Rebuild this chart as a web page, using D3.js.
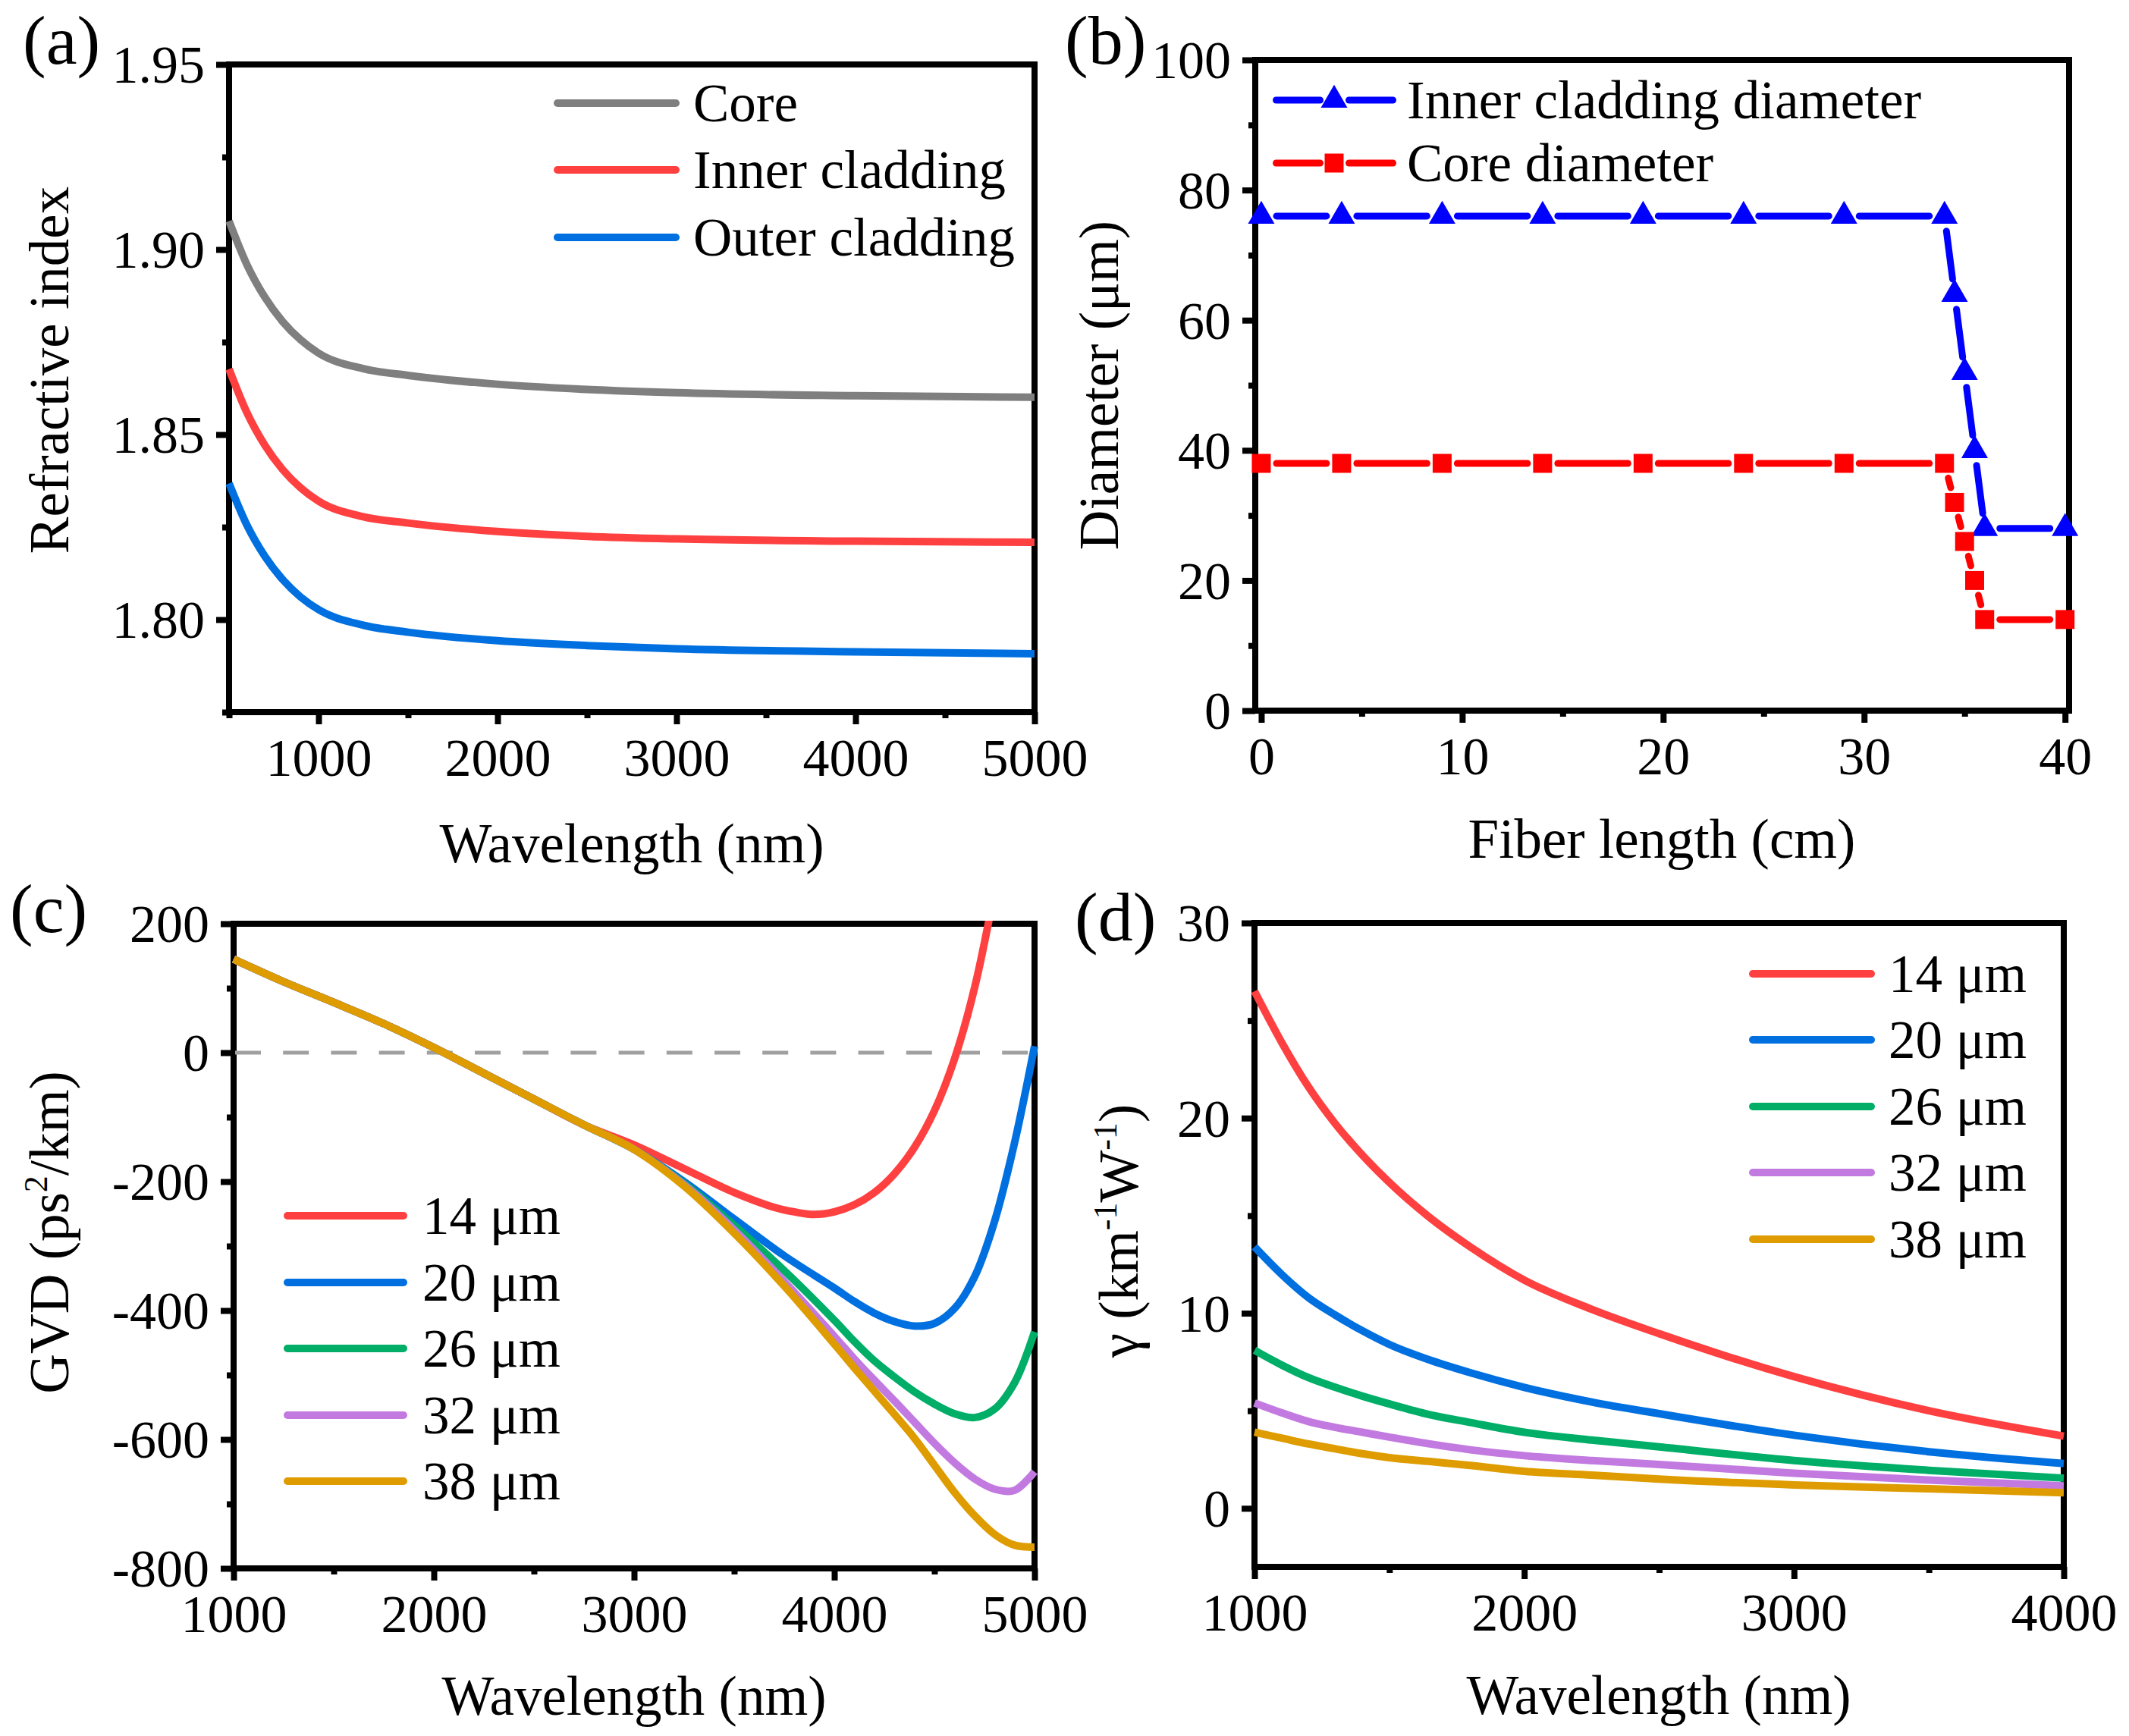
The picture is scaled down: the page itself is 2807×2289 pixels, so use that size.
<!DOCTYPE html>
<html><head><meta charset="utf-8">
<script src="https://cdn.jsdelivr.net/npm/d3@7"></script>
<style>html,body{margin:0;padding:0;background:#fff;}</style>
</head><body>
<svg id="fig" width="2807" height="2289" xmlns="http://www.w3.org/2000/svg"></svg>
<script>
// ---------------- DATA ----------------
// (a) refractive index vs wavelength
const aWl    = [500, 600, 700, 800, 900, 1000, 1250, 1500, 2000, 2500, 3000, 4000, 5000];
const aCore  = [1.9077, 1.8959, 1.8871, 1.8805, 1.8756, 1.8720, 1.8678, 1.8660, 1.8636, 1.8622, 1.8613, 1.8605, 1.8601];
const aInner = [1.8677, 1.8559, 1.8471, 1.8405, 1.8356, 1.8320, 1.8278, 1.8261, 1.8238, 1.8225, 1.8218, 1.8212, 1.8209];
const aOuter = [1.8368, 1.8255, 1.8171, 1.8108, 1.8061, 1.8027, 1.7985, 1.7966, 1.7943, 1.7930, 1.7921, 1.7913, 1.7908];
const aNames = ["Core", "Inner cladding", "Outer cladding"];

// (b) diameters vs fiber length
const bLength = [0, 4, 9, 14, 19, 24, 29, 34, 34.5, 35, 35.5, 36, 40];
const bInner  = [76, 76, 76, 76, 76, 76, 76, 76, 64, 52, 40, 28, 28];
const bCore   = [38, 38, 38, 38, 38, 38, 38, 38, 32, 26, 20, 14, 14];
const bNames  = ["Inner cladding diameter", "Core diameter"];

// (c) GVD vs wavelength (shared short-wavelength part, then each core size)
const cWlBase  = [1000, 1250, 1500, 1750, 2000, 2250, 2500, 2750];
const cGvdBase = [145, 110, 78, 45, 8, -32, -72, -112];
const cWl14 = [3000, 3250, 3500, 3700, 3800, 3900, 4000, 4100, 4200, 4300, 4400, 4500, 4600, 4700, 4800];
const cG14  = [-143, -180, -217, -240, -247, -251, -247, -236, -217, -188, -147, -90, -10, 100, 250];
const cWl20 = [3000, 3250, 3500, 3750, 4000, 4100, 4200, 4300, 4400, 4500, 4600, 4700, 4800, 4900, 5000];
const cG20  = [-150, -200, -258, -315, -365, -386, -404, -417, -424, -420, -397, -348, -262, -140, 10];
const cWl26 = [3000, 3250, 3500, 3750, 4000, 4100, 4200, 4300, 4400, 4500, 4600, 4700, 4800, 4900, 5000];
const cG26  = [-150, -203, -268, -338, -415, -448, -478, -503, -526, -545, -560, -566, -553, -512, -433];
const cWl32 = [3000, 3250, 3500, 3750, 4000, 4100, 4200, 4300, 4400, 4500, 4600, 4700, 4800, 4900, 5000];
const cG32  = [-150, -205, -275, -355, -440, -475, -508, -540, -573, -606, -636, -661, -677, -679, -650];
const cWl38 = [3000, 3250, 3500, 3750, 4000, 4100, 4200, 4300, 4400, 4500, 4600, 4700, 4800, 4900, 5000];
const cG38  = [-150, -207, -280, -362, -452, -489, -525, -561, -598, -640, -682, -718, -747, -764, -767];
const sizeNames = ["14 μm", "20 μm", "26 μm", "32 μm", "38 μm"];

// (d) nonlinear coefficient vs wavelength
const dWl  = [1000, 1100, 1200, 1300, 1400, 1500, 1650, 1800, 2000, 2250, 2500, 3000, 3500, 4000];
const d14  = [26.5, 23.9, 21.6, 19.7, 18.1, 16.7, 14.9, 13.4, 11.7, 10.2, 8.95, 6.75, 5.0, 3.7];
const d20  = [13.4, 12.0, 10.8, 9.9, 9.1, 8.4, 7.6, 6.95, 6.2, 5.45, 4.85, 3.75, 2.9, 2.3];
const d26  = [8.1, 7.35, 6.7, 6.2, 5.75, 5.35, 4.8, 4.4, 3.9, 3.5, 3.15, 2.45, 1.95, 1.55];
const d32  = [5.4, 4.9, 4.45, 4.15, 3.9, 3.65, 3.3, 3.0, 2.7, 2.45, 2.25, 1.8, 1.45, 1.15];
const d38  = [3.9, 3.6, 3.3, 3.05, 2.8, 2.6, 2.4, 2.2, 1.9, 1.7, 1.5, 1.2, 1.0, 0.8];

// tick values
const aXMajor = [1000, 2000, 3000, 4000, 5000], aXMinor = [500, 1500, 2500, 3500, 4500];
const aYMajor = [1.80, 1.85, 1.90, 1.95],      aYMinor = [1.775, 1.825, 1.875, 1.925];
const bXMajor = [0, 10, 20, 30, 40],           bXMinor = [5, 15, 25, 35];
const bYMajor = [0, 20, 40, 60, 80, 100],      bYMinor = [10, 30, 50, 70, 90];
const cXMajor = [1000, 2000, 3000, 4000, 5000], cXMinor = [1500, 2500, 3500, 4500];
const cYMajor = [-800, -600, -400, -200, 0, 200], cYMinor = [-700, -500, -300, -100, 100];
const dXMajor = [1000, 2000, 3000, 4000],      dXMinor = [1500, 2500, 3500];
const dYMajor = [0, 10, 20, 30],               dYMinor = [5, 15, 25];

// ---------------- STYLE ----------------
const FONT = '"Liberation Serif", "Times New Roman", Times, serif';
const TICK_FS = 70, TITLE_FS = 73, LEG_FS = 71, PANEL_FS = 92;
const SPINE_W = 8, LINE_W = 10;
const C_GRAY = "#7f7f7f", C_RED = "#ff4040", C_BLUE = "#0070e0",
      C_GREEN = "#00ae68", C_PURPLE = "#c27ae0", C_ORANGE = "#de9c00";
const sizeColors = [C_RED, C_BLUE, C_GREEN, C_PURPLE, C_ORANGE];

const svg = d3.select("#fig");
svg.append("rect").attr("width", 2807).attr("height", 2289).attr("fill", "#fff");

function txt(g, x, y, s, fs, anchor) {
  return g.append("text").attr("x", x).attr("y", y).attr("font-family", FONT)
    .attr("font-size", fs).attr("fill", "#000").attr("text-anchor", anchor || "start").text(s);
}

function drawAxes(x, y, t) {
  const g = svg.append("g");
  const [x0, x1] = x.range(), [y0, y1] = y.range();
  const style = a => {
    a.select(".domain").remove();
    a.attr("font-family", null).attr("font-size", null);
    a.selectAll("line").attr("stroke", "#000").attr("stroke-width", SPINE_W);
    a.selectAll("text").attr("font-family", FONT).attr("font-size", TICK_FS).attr("fill", "#000");
  };
  g.append("g").attr("transform", `translate(0,${y0})`)
    .call(d3.axisBottom(x).tickValues(t.xMinor).tickSize(8).tickFormat(() => "")).call(style);
  g.append("g").attr("transform", `translate(${x0},0)`)
    .call(d3.axisLeft(y).tickValues(t.yMinor).tickSize(9).tickFormat(() => "")).call(style);
  g.append("g").attr("transform", `translate(0,${y0})`)
    .call(d3.axisBottom(x).tickValues(t.xMajor).tickSize(16).tickFormat(t.xFmt)).call(style)
    .call(a => a.selectAll("text").attr("y", 84).attr("dy", null));
  g.append("g").attr("transform", `translate(${x0},0)`)
    .call(d3.axisLeft(y).tickValues(t.yMajor).tickSize(17).tickFormat(t.yFmt)).call(style)
    .call(a => a.selectAll("text").attr("x", -32).attr("dy", "0.34em"));
  g.append("rect").attr("x", x0).attr("y", y1).attr("width", x1 - x0).attr("height", y0 - y1)
    .attr("fill", "none").attr("stroke", "#000").attr("stroke-width", SPINE_W);
  return g;
}

function legendLine(g, xa, xb, yy, color, label, tx) {
  g.append("line").attr("x1", xa + LINE_W / 2).attr("x2", xb - LINE_W / 2).attr("y1", yy).attr("y2", yy)
    .attr("stroke", color).attr("stroke-width", LINE_W).attr("stroke-linecap", "round");
  txt(g, tx, yy + 24, label, LEG_FS);
}

const intFmt = d => String(d);

// ================= (a) =================
{
  const x = d3.scaleLinear().domain([500, 5000]).range([302, 1364]);
  const y = d3.scaleLinear().domain([1.775, 1.95]).range([939, 85]);
  drawAxes(x, y, {xMajor: aXMajor, xMinor: aXMinor, yMajor: aYMajor, yMinor: aYMinor,
                  xFmt: intFmt, yFmt: d => d.toFixed(2)});
  const line = d3.line().x(d => x(d[0])).y(d => y(d[1])).curve(d3.curveMonotoneX);
  const series = [aCore, aInner, aOuter], cols = [C_GRAY, C_RED, C_BLUE];
  const g = svg.append("g");
  series.forEach((s, i) => {
    g.append("path").attr("d", line(aWl.map((w, k) => [w, s[k]])))
      .attr("fill", "none").attr("stroke", cols[i]).attr("stroke-width", LINE_W);
  });
  const rows = [136, 224, 313];
  aNames.forEach((n, i) => legendLine(g, 730, 896, rows[i], cols[i], n, 914));
  txt(svg, 833, 1137, "Wavelength (nm)", TITLE_FS, "middle");
  txt(svg, 0, 0, "Refractive index", TITLE_FS, "middle").attr("transform", "translate(90,488) rotate(-90)");
  txt(svg, 30, 84, "(a)", PANEL_FS);
}

// ================= (b) =================
{
  const x = d3.scaleLinear().domain([-0.3, 40.2]).range([1655, 2728]);
  const y = d3.scaleLinear().domain([0, 100]).range([937, 79]);
  drawAxes(x, y, {xMajor: bXMajor, xMinor: bXMinor, yMajor: bYMajor, yMinor: bYMinor,
                  xFmt: intFmt, yFmt: intFmt});
  const g = svg.append("g");
  const GAP = 20, BW = 9;
  function gapped(vals, color) {
    const pts = bLength.map((l, i) => [x(l), y(vals[i])]);
    for (let i = 0; i < pts.length - 1; i++) {
      const [ax, ay] = pts[i], [bx, by] = pts[i + 1];
      const L = Math.hypot(bx - ax, by - ay);
      if (L <= 2 * GAP) continue;
      const ux = (bx - ax) / L, uy = (by - ay) / L;
      g.append("line").attr("x1", ax + ux * GAP).attr("y1", ay + uy * GAP)
        .attr("x2", bx - ux * GAP).attr("y2", by - uy * GAP)
        .attr("stroke", color).attr("stroke-width", BW).attr("stroke-linecap", "round");
    }
    return pts;
  }
  const triPts = gapped(bInner, "#0000ff");
  const sqPts = gapped(bCore, "#ff0000");
  const tri = d3.symbol(d3.symbolTriangle, 530), sq = d3.symbol(d3.symbolSquare, 625);
  g.selectAll(".tri").data(triPts).join("path").attr("d", tri)
    .attr("transform", d => `translate(${d[0]},${d[1]})`).attr("fill", "#0000ff");
  g.selectAll(".sq").data(sqPts).join("path").attr("d", sq)
    .attr("transform", d => `translate(${d[0]},${d[1]})`).attr("fill", "#ff0000");
  const legRows = [132, 215], legCols = ["#0000ff", "#ff0000"], legSym = [tri, sq];
  bNames.forEach((n, i) => {
    const yy = legRows[i];
    [[1678, 1745], [1774, 1841]].forEach(([a, b]) =>
      g.append("line").attr("x1", a + 4.5).attr("x2", b - 4.5).attr("y1", yy).attr("y2", yy)
        .attr("stroke", legCols[i]).attr("stroke-width", BW).attr("stroke-linecap", "round"));
    g.append("path").attr("d", legSym[i]).attr("transform", `translate(1759,${yy})`).attr("fill", legCols[i]);
    txt(g, 1855, yy + 24, n, LEG_FS);
  });
  txt(svg, 2191, 1131, "Fiber length (cm)", TITLE_FS, "middle");
  txt(svg, 0, 0, "Diameter (μm)", TITLE_FS, "middle").attr("transform", "translate(1474,508) rotate(-90)");
  txt(svg, 1404, 84, "(b)", PANEL_FS);
}

// ================= (c) =================
{
  const x = d3.scaleLinear().domain([1000, 5000]).range([308, 1364]);
  const y = d3.scaleLinear().domain([-800, 200]).range([2068, 1218]);
  drawAxes(x, y, {xMajor: cXMajor, xMinor: cXMinor, yMajor: cYMajor, yMinor: cYMinor,
                  xFmt: intFmt, yFmt: intFmt});
  svg.append("clipPath").attr("id", "clipC").append("rect")
    .attr("x", 290).attr("y", 1214).attr("width", 1100).attr("height", 860);
  const g = svg.append("g");
  g.append("line").attr("x1", x(1000) + 2).attr("x2", x(5000)).attr("y1", y(0)).attr("y2", y(0))
    .attr("stroke", "#a0a0a0").attr("stroke-width", 5).attr("stroke-dasharray", "34,29.2");
  const line = d3.line().x(d => x(d[0])).y(d => y(d[1])).curve(d3.curveCatmullRom.alpha(0.5));
  const wls = [cWl14, cWl20, cWl26, cWl32, cWl38], gv = [cG14, cG20, cG26, cG32, cG38];
  const pg = g.append("g").attr("clip-path", "url(#clipC)");
  for (let i = 0; i < 5; i++) {
    const pts = cWlBase.map((w, k) => [w, cGvdBase[k]]).concat(wls[i].map((w, k) => [w, gv[i][k]]));
    pg.append("path").attr("d", line(pts)).attr("fill", "none")
      .attr("stroke", sizeColors[i]).attr("stroke-width", LINE_W);
  }
  const rows = [1603, 1691, 1778, 1866, 1953];
  sizeNames.forEach((n, i) => legendLine(g, 374, 537, rows[i], sizeColors[i], n, 557));
  txt(svg, 836, 2261, "Wavelength (nm)", TITLE_FS, "middle");
  const t = txt(svg, 0, 0, "GVD (ps", TITLE_FS, "middle").attr("transform", "translate(90,1625) rotate(-90)");
  t.append("tspan").attr("font-size", 44).attr("dy", -28).text("2");
  t.append("tspan").attr("dy", 28).text("/km)");
  txt(svg, 13, 1229, "(c)", PANEL_FS);
}

// ================= (d) =================
{
  const x = d3.scaleLinear().domain([1000, 4000]).range([1654, 2721]);
  const y = d3.scaleLinear().domain([-3, 30]).range([2066, 1217]);
  drawAxes(x, y, {xMajor: dXMajor, xMinor: dXMinor, yMajor: dYMajor, yMinor: dYMinor,
                  xFmt: intFmt, yFmt: intFmt});
  const g = svg.append("g");
  const line = d3.line().x(d => x(d[0])).y(d => y(d[1])).curve(d3.curveMonotoneX);
  const series = [d14, d20, d26, d32, d38];
  for (let i = 0; i < 5; i++) {
    g.append("path").attr("d", line(dWl.map((w, k) => [w, series[i][k]])))
      .attr("fill", "none").attr("stroke", sizeColors[i]).attr("stroke-width", LINE_W);
  }
  const rows = [1284, 1371, 1459, 1546, 1634];
  sizeNames.forEach((n, i) => legendLine(g, 2306, 2472, rows[i], sizeColors[i], n, 2490));
  txt(svg, 2187, 2260, "Wavelength (nm)", TITLE_FS, "middle");
  const t = txt(svg, 0, 0, "γ (km", TITLE_FS, "middle").attr("transform", "translate(1500,1623) rotate(-90)");
  t.append("tspan").attr("font-size", 44).attr("dy", -28).text("-1");
  t.append("tspan").attr("dy", 28).text("W");
  t.append("tspan").attr("font-size", 44).attr("dy", -28).text("-1");
  t.append("tspan").attr("dy", 28).text(")");
  txt(svg, 1417, 1240, "(d)", PANEL_FS);
}
</script>
</body></html>
